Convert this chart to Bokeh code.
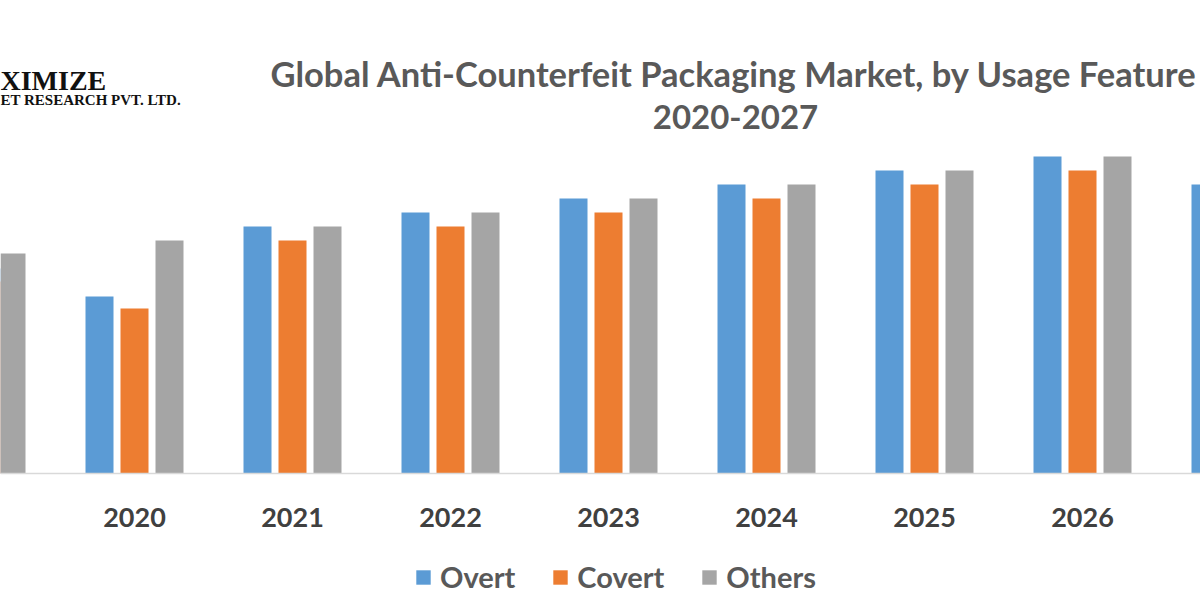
from bokeh.plotting import figure
from bokeh.models import Range1d, Label, Legend, LegendItem, FixedTicker
from bokeh.embed import file_html
from bokeh.resources import INLINE

# ---- data (arbitrary units) ----
years = [2019, 2020, 2021, 2022, 2023, 2024, 2025, 2026, 2027]
overt = [2.05, 1.77, 2.47, 2.61, 2.75, 2.89, 3.03, 3.17, 2.89]
covert = [1.92, 1.65, 2.33, 2.47, 2.61, 2.75, 2.89, 3.03, 2.75]
others = [2.20, 2.33, 2.47, 2.61, 2.75, 2.89, 3.03, 3.17, 2.89]
series_names = ["Overt", "Covert", "Others"]
tick_labels = {y: str(y) for y in years}

title_line1 = "Global Anti-Counterfeit Packaging Market, by Usage Feature"
title_line2 = "2020-2027"
logo_line1 = "XIMIZE"
logo_line2 = "ET RESEARCH PVT. LTD."

# ---- layout ----
W, H = 1200, 600
BASE = 473            # baseline pixel (from top)
PITCH = 158.0         # px per year
C2020 = 134.0         # px centre of 2020 group
x0 = 2020 - C2020 / PITCH
x1 = x0 + W / PITCH
YMAX = BASE / 100.0
YMIN = -(H - BASE) / 100.0


def xd(px):
    return x0 + px / PITCH


def yd(py):
    return (BASE - py) / 100.0


p = figure(width=W, height=H, output_backend="svg", toolbar_location=None,
           x_range=Range1d(x0, x1), y_range=Range1d(YMIN, YMAX),
           min_border=0, y_axis_location=None)
p.outline_line_color = None
p.grid.visible = False
p.background_fill_color = "white"
p.border_fill_color = "white"

bw = 28 / PITCH
off = 35 / PITCH
colors = ["#5B9BD5", "#ED7D31", "#A5A5A5"]
renderers = []
for vals, dx, c in zip([overt, covert, others], [-off, 0, off], colors):
    r = p.vbar(x=[y + dx for y in years], top=vals, bottom=0, width=bw,
               fill_color=c, line_color=None)
    renderers.append(r)

ax = p.xaxis[0]
ax.fixed_location = 0
ax.ticker = FixedTicker(ticks=years)
ax.major_label_overrides = tick_labels
ax.axis_line_color = "#d9d9d9"
ax.axis_line_width = 1.5
ax.major_tick_line_color = None
ax.minor_tick_line_color = None
ax.major_label_text_font = "Lato"
ax.major_label_text_font_style = "bold"
ax.major_label_text_font_size = "27px"
ax.major_label_text_color = "#404040"
ax.major_label_standoff = 28

# title
p.add_layout(Label(x=xd(270), y=yd(73), text=title_line1, text_align="left",
                   text_baseline="alphabetic", text_font="Lato",
                   text_font_style="bold", text_font_size="34.5px",
                   text_color="#595959"))
p.add_layout(Label(x=xd(735), y=yd(116), text=title_line2, text_align="center",
                   text_baseline="alphabetic", text_font="Lato",
                   text_font_style="bold", text_font_size="33px",
                   text_color="#595959"))
# logo (only the part that the picture shows)
p.add_layout(Label(x=xd(0), y=yd(80), text=logo_line1, text_align="left",
                   text_baseline="alphabetic", text_font="Liberation Serif",
                   text_font_style="bold", text_font_size="28px",
                   text_color="#111111"))
p.add_layout(Label(x=xd(0), y=yd(99), text=logo_line2, text_align="left",
                   text_baseline="alphabetic", text_font="Liberation Serif",
                   text_font_style="bold", text_font_size="15px",
                   text_color="#111111"))

legend = Legend(items=[LegendItem(label=n, renderers=[r])
                       for n, r in zip(series_names, renderers)],
                orientation="horizontal", location=(414, 6),
                label_text_font="Lato", label_text_font_style="bold",
                label_text_font_size="29px",
                label_text_color="#595959", glyph_width=18, glyph_height=18,
                label_standoff=8, spacing=36, padding=0, margin=0,
                border_line_alpha=0, background_fill_alpha=0)
p.add_layout(legend)

open("out.html", "w").write(file_html(p, INLINE))
